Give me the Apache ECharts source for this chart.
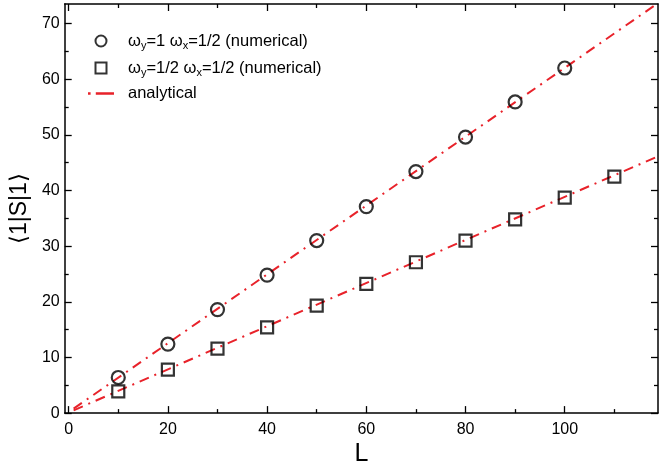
<!DOCTYPE html>
<html>
<head>
<meta charset="utf-8">
<script src="https://cdn.jsdelivr.net/npm/echarts@6/dist/echarts.min.js"></script>
<style>
  html, body { margin: 0; padding: 0; background: #fff; }
  #chart { width: 659px; height: 472px; }
</style>
</head>
<body>
<div id="chart"></div>
<script>
// Numerical results for the two frequency settings
const L_circle = [10, 20, 30, 40, 50, 60, 70, 80, 90, 100];
const S_circle = [6.4, 12.4, 18.6, 24.8, 31.0, 37.1, 43.4, 49.6, 55.9, 62.0];
const L_square = [10, 20, 30, 40, 50, 60, 70, 80, 90, 100, 110];
const S_square = [3.9, 7.8, 11.6, 15.4, 19.3, 23.2, 27.1, 31.0, 34.8, 38.7, 42.5];

// Analytical straight lines (end points)
const L_analytical = [1, 120];
const S_analytical1 = [0.8, 74.4];
const S_analytical2 = [0.5, 46.6];

// Axis ranges and tick positions
const xRange = [-0.8, 118.8];
const yRange = [0, 73.5];
const xMajor = [0, 20, 40, 60, 80, 100];
const xMinor = [10, 30, 50, 70, 90, 110];
const yMajor = [0, 10, 20, 30, 40, 50, 60, 70];
const yMinor = [5, 15, 25, 35, 45, 55, 65];

const FONT = 'Liberation Sans, Arial, Helvetica, sans-serif';
const RED = '#e8222a';
const DASH_DOT = [10, 6, 2, 6];

function pairs(xs, ys) { return xs.map((x, i) => [x, ys[i]]); }

function makeAxis(type, position, ticks, len, withLine, withLabels, range) {
  return {
    type: 'value',
    position: position,
    min: range[0],
    max: range[1],
    splitLine: { show: false },
    axisLine: { show: withLine, onZero: false, lineStyle: { color: '#000', width: 1.5 } },
    axisTick: { show: true, inside: true, length: len, customValues: ticks,
                lineStyle: { color: '#000', width: 1.3 } },
    axisLabel: { show: withLabels, customValues: ticks, color: '#000',
                 fontFamily: FONT, fontSize: 16, margin: type === 'x' ? 8 : 5 }
  };
}

const xAxes = [
  Object.assign(makeAxis('x', 'bottom', xMajor, 7, true, true, xRange), {
    name: 'L', nameLocation: 'middle', nameGap: 28,
    nameTextStyle: { fontFamily: FONT, fontSize: 25, color: '#000' }
  }),
  makeAxis('x', 'bottom', xMinor, 4, false, false, xRange),
  makeAxis('x', 'top', xMajor, 7, true, false, xRange),
  makeAxis('x', 'top', xMinor, 4, false, false, xRange)
];
const yAxes = [
  Object.assign(makeAxis('y', 'left', yMajor, 7, true, true, yRange), {
    name: '\u27E81|S|1\u27E9', nameLocation: 'middle', nameGap: 29, nameRotate: 90,
    nameTextStyle: { fontFamily: FONT, fontSize: 23, color: '#000' }
  }),
  makeAxis('y', 'left', yMinor, 4, false, false, yRange),
  makeAxis('y', 'right', yMajor, 7, true, false, yRange),
  makeAxis('y', 'right', yMinor, 4, false, false, yRange)
];

const legendText = {
  circ: '{t|\u03C9}{s|y}{t|=1 \u03C9}{s|x}{t|=1/2 (numerical)}',
  sq: '{t|\u03C9}{s|y}{t|=1/2 \u03C9}{s|x}{t|=1/2 (numerical)}',
  an: '{t|analytical}'
};

const chart = echarts.init(document.getElementById('chart'), null, { renderer: 'canvas' });
chart.setOption({
  animation: false,
  backgroundColor: '#fff',
  grid: { left: 64, right: 1, top: 4, bottom: 50, containLabel: false },
  xAxis: xAxes,
  yAxis: yAxes,
  legend: {
    orient: 'vertical',
    left: 88,
    top: 31,
    padding: 0,
    itemWidth: 26,
    itemHeight: 11,
    itemGap: 7,
    data: [
      { name: 'circ', icon: 'circle' },
      { name: 'sq', icon: 'path://M0,0H10V10H0Z' },
      { name: 'an', icon: 'path://M0,4H2V6H0Z M6,4H20V6H6Z',
        itemStyle: { color: RED, borderWidth: 0 } }
    ],
    formatter: function (name) { return legendText[name]; },
    textStyle: {
      padding: [0, 0, 0, 9],
      rich: {
        t: { fontFamily: FONT, fontSize: 16.5, color: '#000', lineHeight: 18 },
        s: { fontFamily: FONT, fontSize: 11, color: '#000', padding: [9, 0, 0, 0], lineHeight: 18 }
      }
    }
  },
  series: [
    {
      name: 'an', type: 'line', data: pairs(L_analytical, S_analytical1),
      symbol: 'none', clip: true, z: 1,
      lineStyle: { color: RED, width: 2, type: DASH_DOT },
      itemStyle: { color: RED }
    },
    {
      name: 'an', type: 'line', data: pairs(L_analytical, S_analytical2),
      symbol: 'none', clip: true, z: 1,
      lineStyle: { color: RED, width: 2, type: DASH_DOT },
      itemStyle: { color: RED }
    },
    {
      name: 'circ', type: 'scatter', data: pairs(L_circle, S_circle),
      symbol: 'circle', symbolSize: 13, z: 3,
      itemStyle: { color: 'rgba(0,0,0,0)', borderColor: '#000', borderWidth: 2.2 }
    },
    {
      name: 'sq', type: 'scatter', data: pairs(L_square, S_square),
      symbol: 'rect', symbolSize: 12, z: 3,
      itemStyle: { color: 'rgba(0,0,0,0)', borderColor: '#000', borderWidth: 2.2 }
    }
  ]
});
</script>
</body>
</html>
